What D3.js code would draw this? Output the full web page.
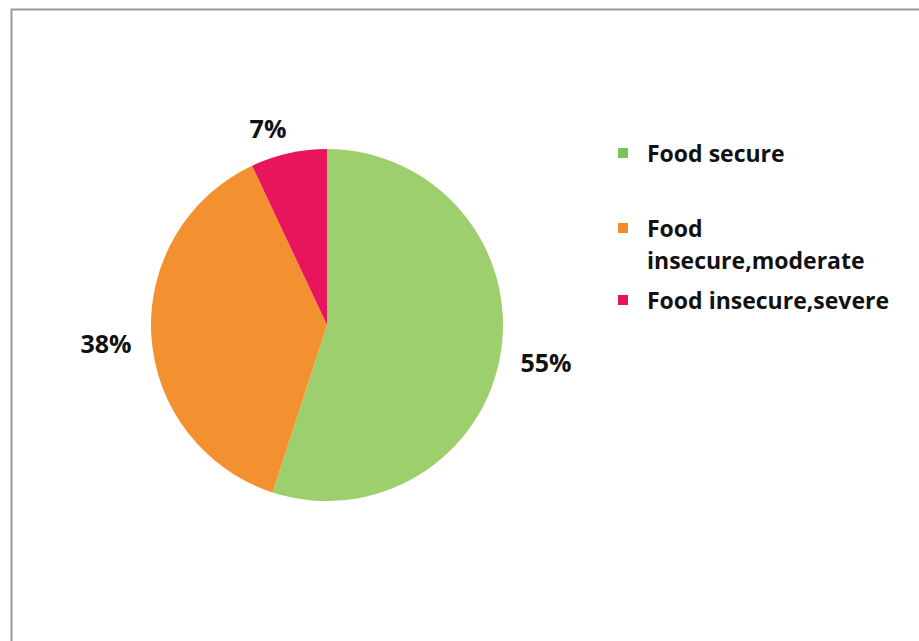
<!DOCTYPE html>
<html><head><meta charset="utf-8">
<script src="https://cdn.jsdelivr.net/npm/d3@7"></script>
<style>body{margin:0;background:#fff}svg{display:block}</style>
</head><body>
<script>
const categories = ["Food secure", "Food insecure,moderate", "Food insecure,severe"];
const legendLines = [["Food secure"], ["Food", "insecure,moderate"], ["Food insecure,severe"]];
const values = [55, 38, 7];
const labels = ["55%", "38%", "7%"];
const colors = ["#9dcf6c", "#f39131", "#e8145c"];
const legendColors = ["#7cc35a", "#f28c2a", "#e8145c"];

const W = 919, H = 641;
const svg = d3.select("body").append("svg").attr("width", W).attr("height", H);
svg.append("rect").attr("x", 11.5).attr("y", 9.5).attr("width", W).attr("height", H)
  .attr("fill", "#fff").attr("stroke", "#9a9a9a").attr("stroke-width", 2);

const cx = 327, cy = 325, r = 176;
const pie = d3.pie().sort(null).value(d => d)(values);
const arc = d3.arc().innerRadius(0).outerRadius(r);
const g = svg.append("g").attr("transform", `translate(${cx},${cy})`);
g.selectAll("path").data(pie).join("path").attr("d", arc).attr("fill", (d, i) => colors[i]);

const labelPos = [[546, 362], [106, 343], [268, 128]];
g.selectAll("text.lbl").data(pie).join("text").attr("class", "lbl")
  .attr("x", (d, i) => labelPos[i][0] - cx).attr("y", (d, i) => labelPos[i][1] - cy)
  .attr("text-anchor", "middle").attr("dominant-baseline", "central")
  .style("font-family", "'Open Sans', Lato, sans-serif").style("font-weight", "bold")
  .style("font-size", "25px").attr("fill", "#111").text((d, i) => labels[i]);

const legendY = [153, 228, 300];
const lg = svg.append("g");
categories.forEach((c, i) => {
  lg.append("rect").attr("x", 618).attr("y", legendY[i] - 5).attr("width", 10).attr("height", 10)
    .attr("fill", legendColors[i]);
  legendLines[i].forEach((line, j) => {
    lg.append("text").attr("x", 647).attr("y", legendY[i] + j * 32)
      .attr("dominant-baseline", "central")
      .style("font-family", "'Open Sans', Lato, sans-serif").style("font-weight", "bold")
      .style("font-size", "23px").attr("fill", "#111").text(line);
  });
});
</script>
</body></html>
